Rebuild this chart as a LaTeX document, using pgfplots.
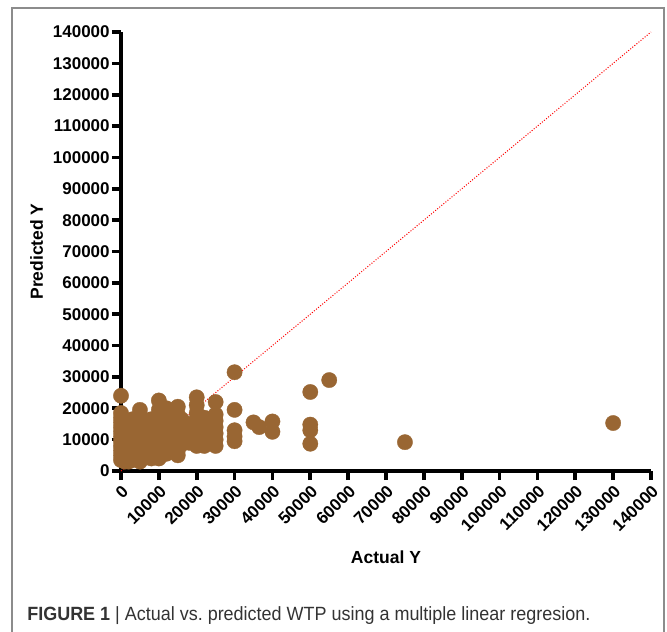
\documentclass[border=0pt]{standalone}
\usepackage{pgfplots}
\pgfplotsset{compat=1.18}
\usepackage{fontspec}
\setmainfont{Liberation Sans}
\usepackage{graphicx}

\definecolor{wtp}{HTML}{996633}
\definecolor{framegray}{HTML}{8C8C8C}
\definecolor{captxt}{HTML}{333333}

\begin{document}
\begin{tikzpicture}
% page = reference frame, 1 px = 0.6 pt, origin at the axis corner
\useasboundingbox (-72.6pt,-96pt) rectangle (327.6pt,282.6pt);
\draw[framegray, line width=0.9pt] (-65.4pt,-110pt) rectangle (325.8pt,277.8pt);

\begin{axis}[
    scale only axis,
    width=318pt, height=263.4pt,
    xmin=0, xmax=140000, ymin=0, ymax=140000,
    axis x line*=bottom, axis y line*=left,
    axis line style={line width=2.4pt, black},
    xtick={0,10000,...,140000},
    ytick={0,10000,...,140000},
    tick align=outside,
    major tick length=5.4pt,
    tick style={line width=2.2pt, black},
    minor tick num=0,
    scaled ticks=false,
    /pgf/number format/assume math mode=true,
    /pgf/number format/fixed,
    /pgf/number format/1000 sep={},
    ticklabel style={font=\bfseries\fontsize{10.2}{12}\selectfont},
    xticklabel style={rotate=45, anchor=north east, inner sep=1.5pt},
    yticklabel style={inner sep=1.2pt},
    xlabel={Actual Y},
    ylabel={Predicted Y},
    label style={font=\bfseries\fontsize{10.5}{12}\selectfont},
    xlabel style={at={(axis description cs:0.5,-0.2096)}, anchor=base},
    ylabel style={at={(axis description cs:-0.1472,0.5)}, anchor=base},
    clip=false,
]
\addplot[only marks, mark=*, mark size=4.6pt,
         mark options={fill=wtp, draw=wtp, line width=0.2pt}] table {
x y
0 24000
0 18500
0 17000
0 15500
0 14000
0 12500
0 11000
0 9500
0 8000
0 6500
0 5000
0 3500
500 13000
500 10000
500 7000
500 4000
1000 16000
1000 14500
1000 12000
1000 9000
1000 6000
1000 3000
2000 15000
2000 13000
2000 11000
2000 8500
2000 5500
2000 3000
3000 16500
3000 14000
3000 12000
3000 10000
3000 7500
3000 5000
3000 3500
4000 15000
4000 13000
4000 10500
4000 8000
4000 5000
5000 19500
5000 17500
5000 15500
5000 13500
5000 11500
5000 9500
5000 7500
5000 5500
5000 3000
6000 16000
6000 13000
6000 10000
6000 7000
6000 4500
7000 15000
7000 12500
7000 9000
7000 6000
8000 16500
8000 14000
8000 11500
8000 9000
8000 6500
8000 4000
9000 15000
9000 12000
9000 8000
9000 5000
10000 22500
10000 19500
10000 17500
10000 15500
10000 13500
10000 11500
10000 9500
10000 7500
10000 5500
10000 4000
11000 17000
11000 13000
11000 9000
11000 6000
12000 20000
12000 16000
12000 14000
12000 11000
12000 8000
12000 5500
13000 15000
13000 12000
13000 9000
14000 17500
14000 13500
14000 10000
14000 7000
15000 20500
15000 18000
15000 15500
15000 13000
15000 11000
15000 9000
15000 6500
15000 5000
16000 16500
16000 12500
16000 8500
17000 14000
17000 10500
18000 15000
18000 12000
18000 9000
20000 23500
20000 21000
20000 18500
20000 16000
20000 14000
20000 12000
20000 10000
20000 8000
21000 15000
21000 11000
22000 17000
22000 14500
22000 12500
22000 10500
22000 8000
23000 13500
23000 9500
24000 16000
24000 11500
25000 22000
25000 18000
25000 16000
25000 14000
25000 12000
25000 10000
25000 8000
30000 31500
30000 19500
30000 13000
30000 11000
30000 9500
35000 15500
36500 14000
40000 15800
40000 12500
50000 25200
50000 14800
50000 13000
50000 8700
55000 29000
75000 9200
130000 15300
};
\addplot[red, densely dotted, line width=0.6pt] coordinates {(0,0) (140000,140000)};
\end{axis}

\node[anchor=base west, inner sep=0pt, text=captxt] at (-56.4pt,-89.4pt)
  {\resizebox{337.8pt}{\height}{\fontsize{11.5}{13}\selectfont\textbf{FIGURE 1} | Actual vs.\ predicted WTP using a multiple linear regresion.}};
\end{tikzpicture}
\end{document}
